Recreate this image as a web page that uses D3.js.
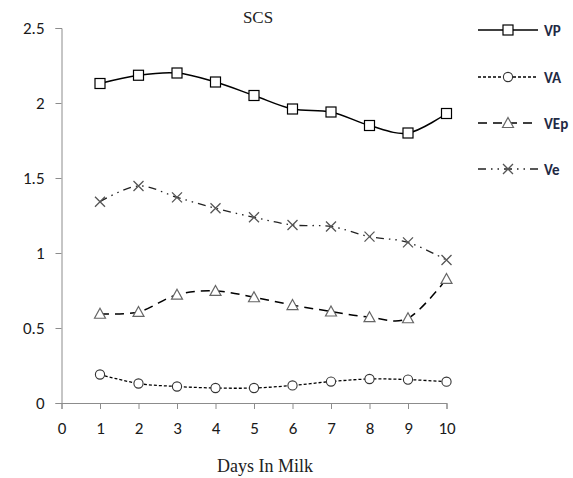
<!DOCTYPE html>
<html>
<head>
<meta charset="utf-8">
<script src="https://cdn.jsdelivr.net/npm/d3@7/dist/d3.min.js"></script>
<style>
  html, body { margin: 0; padding: 0; background: #fff; }
  svg { display: block; }
</style>
</head>
<body>
<svg id="chart" width="573" height="478"></svg>
<script>
// Days in milk (x categories)
const days = [1, 2, 3, 4, 5, 6, 7, 8, 9, 10];

// Variance components of SCS per lactation stage
const VP  = [2.13, 2.185, 2.20, 2.14, 2.05, 1.96, 1.94, 1.85, 1.80, 1.93];
const VA  = [0.19, 0.13, 0.11, 0.10, 0.10, 0.117, 0.143, 0.16, 0.156, 0.142];
const VEp = [0.595, 0.607, 0.722, 0.747, 0.705, 0.653, 0.61, 0.572, 0.565, 0.827];
const Ve  = [1.342, 1.447, 1.371, 1.298, 1.238, 1.187, 1.177, 1.109, 1.071, 0.953];

const xTicks = [0, 1, 2, 3, 4, 5, 6, 7, 8, 9, 10];
const yTicks = [0, 0.5, 1, 1.5, 2, 2.5];

const seriesNames = ["VP", "VA", "VEp", "Ve"];
const seriesData = { VP, VA, VEp, Ve };

const styles = {
  VP:  { stroke: "#000", width: 1.5, dash: null, marker: "square", mstroke: "#000" },
  VA:  { stroke: "#000", width: 1.3, dash: "3,2", marker: "circle", mstroke: "#333" },
  VEp: { stroke: "#000", width: 1.5, dash: "9,6", marker: "triangle", mstroke: "#666" },
  Ve:  { stroke: "#222", width: 1.3, dash: "8,5,1.5,5,1.5,5", marker: "cross", mstroke: "#555" }
};

const svg = d3.select("#chart");

const x = d3.scaleLinear().domain([0, 10]).range([61.5, 446.5]);
const y = d3.scaleLinear().domain([0, 2.5]).range([403, 28]);

const axisColor = "#8c8c8c";
const tickFont = "Carlito, Calibri, 'Open Sans', 'DejaVu Sans', sans-serif";

// Y axis
const yAxis = svg.append("g")
  .attr("transform", `translate(${x(0)},0)`)
  .call(d3.axisLeft(y).tickValues(yTicks).tickSize(6).tickPadding(11)
    .tickFormat(d => d3.format("")(d)));
yAxis.select(".domain").attr("stroke", axisColor);
yAxis.selectAll(".tick line").attr("stroke", axisColor);
yAxis.selectAll(".tick text")
  .attr("fill", "#1a1a1a")
  .style("font-family", tickFont)
  .style("font-size", "17px");

// X axis
const xAxis = svg.append("g")
  .attr("transform", `translate(0,${y(0)})`)
  .call(d3.axisBottom(x).tickValues(xTicks).tickSize(6).tickPadding(13)
    .tickFormat(d3.format("d")));
xAxis.select(".domain").attr("stroke", axisColor);
xAxis.selectAll(".tick line").attr("stroke", axisColor);
xAxis.selectAll(".tick text")
  .attr("fill", "#1a1a1a")
  .style("font-family", tickFont)
  .style("font-size", "17px");

// Title and axis title
svg.append("text")
  .attr("x", 258).attr("y", 23)
  .attr("text-anchor", "middle")
  .style("font-family", "'Times New Roman', 'Liberation Serif', serif")
  .style("font-size", "17px")
  .attr("fill", "#222")
  .text("SCS");

svg.append("text")
  .attr("x", 265).attr("y", 472)
  .attr("text-anchor", "middle")
  .style("font-family", "'Times New Roman', 'Liberation Serif', serif")
  .style("font-size", "18px")
  .attr("fill", "#222")
  .text("Days In Milk");

// Marker drawing helper
function drawMarker(g, type, cx, cy, color) {
  if (type === "square") {
    g.append("rect").attr("x", cx - 5).attr("y", cy - 5).attr("width", 10).attr("height", 10)
      .attr("fill", "#fff").attr("stroke", color).attr("stroke-width", 1.2);
  } else if (type === "circle") {
    g.append("circle").attr("cx", cx).attr("cy", cy).attr("r", 4.6)
      .attr("fill", "#fff").attr("stroke", color).attr("stroke-width", 1.1);
  } else if (type === "triangle") {
    g.append("path")
      .attr("d", `M${cx},${cy - 5.5}L${cx + 5.5},${cy + 4.5}L${cx - 5.5},${cy + 4.5}Z`)
      .attr("fill", "#fff").attr("stroke", color).attr("stroke-width", 1.2);
  } else if (type === "cross") {
    g.append("path")
      .attr("d", `M${cx - 5},${cy - 5}L${cx + 5},${cy + 5}M${cx - 5},${cy + 5}L${cx + 5},${cy - 5}`)
      .attr("fill", "none").attr("stroke", color).attr("stroke-width", 1.3);
  }
}

const line = d3.line()
  .x((d, i) => x(days[i]))
  .y(d => y(d))
  .curve(d3.curveCardinal.tension(0));

const plot = svg.append("g");
seriesNames.forEach(name => {
  const s = styles[name];
  const g = plot.append("g");
  g.append("path")
    .datum(seriesData[name])
    .attr("d", line)
    .attr("fill", "none")
    .attr("stroke", s.stroke)
    .attr("stroke-width", s.width)
    .attr("stroke-dasharray", s.dash);
  seriesData[name].forEach((v, i) => drawMarker(g, s.marker, x(days[i]), y(v), s.mstroke));
});

// Legend
const legendY = [30, 77, 123, 169];
const legend = svg.append("g");
seriesNames.forEach((name, i) => {
  const s = styles[name];
  const ly = legendY[i];
  legend.append("line")
    .attr("x1", 478).attr("x2", 538).attr("y1", ly).attr("y2", ly)
    .attr("stroke", s.stroke).attr("stroke-width", s.width)
    .attr("stroke-dasharray", s.dash);
  drawMarker(legend, s.marker, 508, ly, s.mstroke);
  legend.append("text")
    .attr("x", 544).attr("y", ly + 5.5)
    .style("font-family", tickFont)
    .style("font-size", "15px")
    .style("font-weight", "bold")
    .attr("fill", "#1f2a44")
    .text(name);
});
</script>
</body>
</html>
